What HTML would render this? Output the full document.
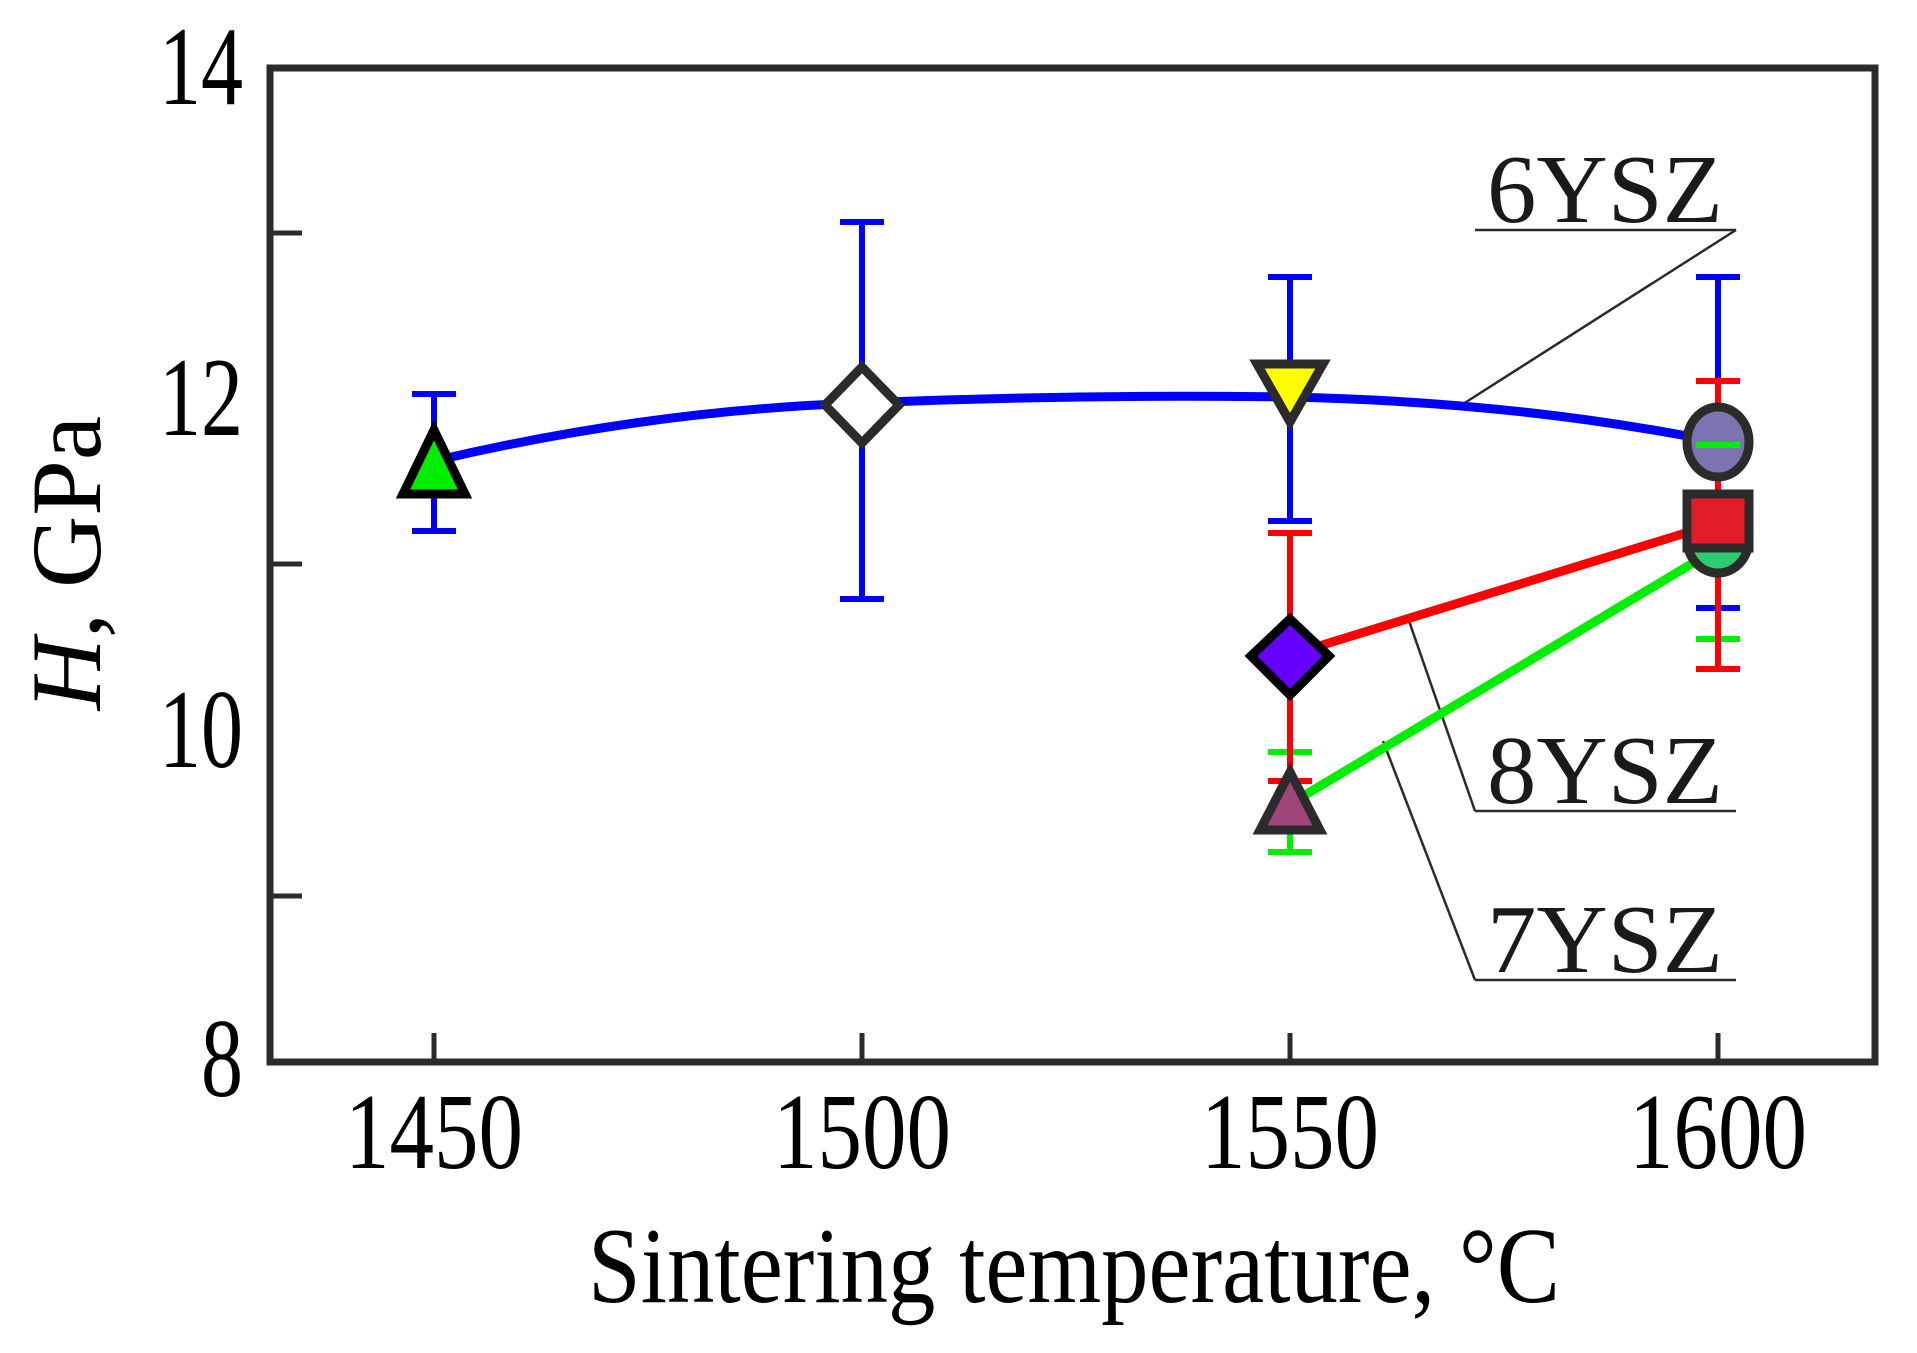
<!DOCTYPE html>
<html><head><meta charset="utf-8"><style>html,body{margin:0;padding:0;background:#fff}svg{display:block}</style></head>
<body>
<svg width="1917" height="1353" viewBox="0 0 1917 1353" xmlns="http://www.w3.org/2000/svg" font-family="Liberation Serif, serif">
<rect width="1917" height="1353" fill="#fff"/>
<g stroke="#2b2b2b" stroke-width="5">
<line x1="270" y1="233" x2="302" y2="233"/>
<line x1="270" y1="564" x2="302" y2="564"/>
<line x1="270" y1="896" x2="302" y2="896"/>
<line x1="434" y1="1062" x2="434" y2="1033"/>
<line x1="862" y1="1062" x2="862" y2="1033"/>
<line x1="1290" y1="1062" x2="1290" y2="1033"/>
<line x1="1718" y1="1062" x2="1718" y2="1033"/>
</g>
<rect x="270" y="68" width="1605" height="994" fill="none" stroke="#2b2b2b" stroke-width="7"/>
<g font-size="112" text-anchor="end" fill="#000">
<text x="243" y="104" textLength="84" lengthAdjust="spacingAndGlyphs">14</text>
<text x="243" y="435" textLength="84" lengthAdjust="spacingAndGlyphs">12</text>
<text x="243" y="767" textLength="84" lengthAdjust="spacingAndGlyphs">10</text>
<text x="243" y="1096" textLength="42" lengthAdjust="spacingAndGlyphs">8</text>
</g>
<g font-size="108" text-anchor="middle" fill="#000">
<text x="434" y="1168" textLength="178" lengthAdjust="spacingAndGlyphs">1450</text>
<text x="862" y="1168" textLength="178" lengthAdjust="spacingAndGlyphs">1500</text>
<text x="1290" y="1168" textLength="178" lengthAdjust="spacingAndGlyphs">1550</text>
<text x="1718" y="1168" textLength="178" lengthAdjust="spacingAndGlyphs">1600</text>
</g>
<text x="588" y="1302" font-size="108" textLength="972" lengthAdjust="spacingAndGlyphs">Sintering temperature, °C</text>
<text transform="translate(100,563) rotate(-90)" font-size="100" text-anchor="middle"><tspan font-style="italic">H</tspan>, GPa</text>

<g stroke="#2b2b2b" stroke-width="2.5" fill="none">
<line x1="1475" y1="230" x2="1736" y2="230"/>
<polyline points="1463,404 1736,230"/>
<line x1="1475" y1="811" x2="1736" y2="811"/>
<polyline points="1408,618 1475,811"/>
<line x1="1475" y1="980" x2="1736" y2="980"/>
<polyline points="1383,741 1475,980"/>
</g>
<g font-size="98" fill="#1a1a1a">
<text x="1487" y="222" textLength="236" lengthAdjust="spacingAndGlyphs">6YSZ</text>
<text x="1487" y="803" textLength="236" lengthAdjust="spacingAndGlyphs">8YSZ</text>
<text x="1487" y="972" textLength="236" lengthAdjust="spacingAndGlyphs">7YSZ</text>
</g>

<g stroke="#0000ff" stroke-width="6" fill="none">
<path d="M434,394 V531 M412,394 H456 M412,531 H456"/>
<path d="M862,222 V599 M840,222 H884 M840,599 H884"/>
<path d="M1290,277 V521 M1268,277 H1312 M1268,521 H1312"/>
<path d="M1718,277 V608 M1696,277 H1740 M1696,608 H1740"/>
</g>
<g stroke="#00ee00" stroke-width="6" fill="none">
<path d="M1290,752 V852 M1268,752 H1312 M1268,852 H1312"/>
<path d="M1718,639 V466 M1696,639 H1740 M1696,466 H1740"/>
</g>
<g stroke="#ff0000" stroke-width="6" fill="none">
<path d="M1290,533 V781 M1268,533 H1312 M1268,781 H1312"/>
<path d="M1718,381 V669 M1696,381 H1740 M1696,669 H1740"/>
</g>

<path d="M434,461 Q650,410 862,403 Q1080,394 1290,397 Q1520,402 1718,442" stroke="#0000ff" stroke-width="9" fill="none"/>
<line x1="1290" y1="655" x2="1718" y2="523" stroke="#ff0000" stroke-width="9"/>
<line x1="1290" y1="804" x2="1718" y2="548" stroke="#00ee00" stroke-width="9"/>

<g stroke="#1a1a1a" stroke-width="9" stroke-linejoin="miter">
<polygon points="434,430 465,494 403,494" fill="#00ee00" stroke="#000"/>
<polygon points="862,367 899,405 862,443 825,405" fill="#fff" stroke="#2b2b2b"/>
<polygon points="1257,364 1323,364 1290,422" fill="#ffff00" stroke="#2b2b2b"/>
<ellipse cx="1718" cy="539" rx="31" ry="34" fill="#2ecc71" stroke="#2b2b2b"/>
<ellipse cx="1718" cy="442" rx="31" ry="35" fill="#7b74b0" stroke="#2b2b2b"/>
<line x1="1696" y1="445" x2="1740" y2="445" stroke="#00ee00" stroke-width="6"/>
<rect x="1687" y="494" width="62" height="54" fill="#e11d27" stroke="#2b2b2b"/>
<polygon points="1290,619 1329,656 1290,695 1251,656" fill="#6600ff" stroke="#000"/>
<polygon points="1290,772 1320,830 1260,830" fill="#a0457a" stroke="#2b2b2b"/>
</g>
</svg>
</body></html>
